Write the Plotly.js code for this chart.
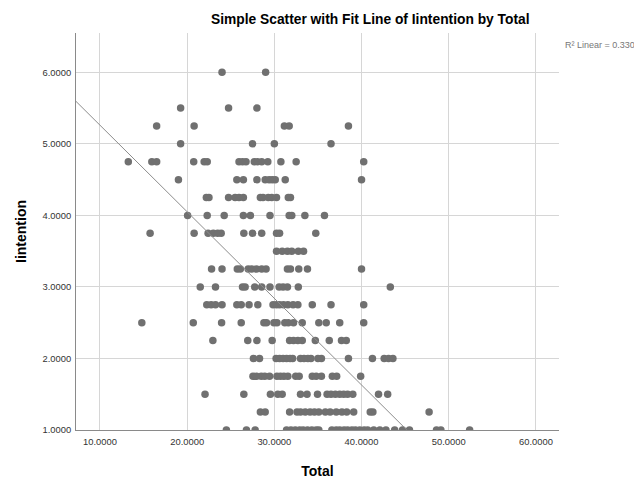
<!DOCTYPE html>
<html>
<head>
<meta charset="utf-8">
<script src="https://cdn.plot.ly/plotly-3.0.1.min.js"></script>
<style>html,body{margin:0;padding:0;background:#fff;}#chart{width:634px;height:479px;}</style>
</head>
<body>
<div id="chart"></div>
<script>
// Total values observed at each Iintention level
const total_600 = [24.0, 29.0];
const total_550 = [19.25, 24.75, 28.0];
const total_525 = [16.5, 20.8, 31.15, 31.7, 38.5];
const total_500 = [19.25, 27.5, 30.0, 36.5];
const total_475 = [13.25, 15.95, 16.5, 20.75, 21.95, 22.3, 25.95, 26.35, 26.75, 27.7, 28.05, 28.55, 29.25, 30.75, 32.5, 40.25];
const total_450 = [19.0, 25.7, 26.45, 28.0, 28.95, 29.4, 29.75, 30.1, 31.25, 40.0];
const total_425 = [22.2, 22.5, 24.75, 25.5, 25.95, 26.45, 28.4, 28.7, 29.3, 29.7, 30.25, 31.6, 31.85];
const total_400 = [20.05, 22.3, 24.25, 26.45, 27.25, 29.5, 31.7, 32.0, 33.5, 35.75];
const total_375 = [15.75, 20.8, 22.4, 23.0, 23.5, 23.9, 26.5, 27.5, 28.55, 30.25, 30.6, 34.75];
const total_350 = [30.25, 30.9, 31.5, 32.0, 32.75, 33.35];
const total_325 = [22.8, 24.0, 25.75, 26.1, 27.0, 27.4, 27.95, 28.55, 29.05, 31.5, 31.85, 32.8, 33.8, 40.0];
const total_300 = [21.5, 23.25, 26.35, 26.65, 27.75, 28.55, 29.5, 30.55, 31.0, 31.5, 32.75, 43.3];
const total_275 = [22.25, 22.75, 23.25, 24.0, 25.7, 26.2, 27.1, 28.1, 29.85, 30.25, 30.6, 31.05, 31.55, 32.15, 32.7, 34.35, 36.5, 40.25];
const total_250 = [14.8, 20.7, 23.95, 26.2, 28.8, 29.1, 29.95, 30.3, 31.2, 31.6, 32.2, 33.2, 35.1, 35.95, 37.5, 40.25];
const total_225 = [22.95, 26.95, 28.0, 29.75, 31.75, 32.2, 32.7, 33.2, 34.7, 36.3, 37.7, 38.25];
const total_200 = [27.6, 28.3, 30.2, 30.6, 31.0, 31.4, 31.8, 32.1, 33.0, 33.4, 33.85, 34.2, 35.0, 35.4, 38.5, 41.25, 42.6, 43.1, 43.6];
const total_175 = [27.55, 27.95, 28.5, 28.9, 29.45, 30.3, 30.7, 31.1, 31.55, 32.45, 32.85, 34.35, 34.8, 35.4, 36.65, 37.15, 39.9];
const total_150 = [22.05, 26.5, 29.55, 30.4, 30.9, 33.0, 33.75, 34.95, 36.05, 36.5, 37.0, 37.5, 37.95, 38.4, 39.0, 41.95, 43.0];
const total_125 = [28.4, 28.95, 31.75, 32.6, 33.0, 33.55, 34.1, 34.6, 35.1, 35.85, 36.4, 37.1, 37.75, 38.3, 39.1, 41.0, 41.3, 47.75];
const total_100 = [24.5, 26.8, 27.8, 31.4, 31.9, 32.4, 32.9, 33.3, 33.8, 34.3, 34.8, 35.1, 36.6, 37.1, 37.5, 38.0, 38.4, 38.9, 39.3, 39.8, 40.3, 40.7, 41.4, 42.1, 42.8, 43.8, 44.7, 45.5, 48.6, 49.1, 52.4];

const intentionLevels = [6.0, 5.5, 5.25, 5.0, 4.75, 4.5, 4.25, 4.0, 3.75, 3.5, 3.25, 3.0, 2.75, 2.5, 2.25, 2.0, 1.75, 1.5, 1.25, 1.0];
const totalsByLevel = [total_600, total_550, total_525, total_500, total_475, total_450, total_425, total_400, total_375, total_350,
  total_325, total_300, total_275, total_250, total_225, total_200, total_175, total_150, total_125, total_100];

// Fit line end points
const fitTotal = [7.25, 45.2];
const fitIntention = [5.594, 1.0];

const xTickVals = [10, 20, 30, 40, 50, 60];
const xTickText = ['10.0000', '20.0000', '30.0000', '40.0000', '50.0000', '60.0000'];
const yTickVals = [1, 2, 3, 4, 5, 6];
const yTickText = ['1.0000', '2.0000', '3.0000', '4.0000', '5.0000', '6.0000'];

const xs = [], ys = [];
totalsByLevel.forEach((arr, i) => arr.forEach(v => { xs.push(v); ys.push(intentionLevels[i]); }));

const FONT = 'Liberation Sans, Arial, sans-serif';

const traces = [
  { type: 'scatter', mode: 'markers', x: xs, y: ys,
    marker: { color: '#707070', size: 7.5, line: { width: 0 } }, hoverinfo: 'x+y', showlegend: false },
  { type: 'scatter', mode: 'lines', x: fitTotal, y: fitIntention,
    line: { color: '#8c8c8c', width: 1 }, showlegend: false, hoverinfo: 'skip' }
];

const layout = {
  width: 634, height: 479,
  margin: { l: 76, r: 75, t: 33, b: 49, pad: 0 },
  paper_bgcolor: '#ffffff', plot_bgcolor: '#ffffff',
  font: { family: FONT, color: '#333333', size: 9 },
  showlegend: false,
  title: { text: '<b>Simple Scatter with Fit Line of Iintention by Total</b>',
    font: { family: FONT, size: 13.8, color: '#000000' },
    xref: 'container', x: 0.584, xanchor: 'center', yref: 'container', y: 0.960, yanchor: 'middle' },
  xaxis: {
    range: [7.25, 62.65], tickvals: xTickVals, ticktext: xTickText,
    showgrid: true, gridcolor: '#d6d6d6', gridwidth: 1, zeroline: false,
    showline: true, linecolor: '#8a8a8a', linewidth: 1, ticks: '',
    ticklabelstandoff: 3,
    tickfont: { family: FONT, size: 9.4, color: '#333333' },
    title: { text: '<b>Total</b>', font: { family: FONT, size: 14, color: '#000000' }, standoff: 22 }
  },
  yaxis: {
    range: [1, 6.55], tickvals: yTickVals, ticktext: yTickText,
    showgrid: true, gridcolor: '#d6d6d6', gridwidth: 1, zeroline: false,
    showline: true, linecolor: '#8a8a8a', linewidth: 1, ticks: '',
    ticklabelstandoff: 2,
    tickfont: { family: FONT, size: 9.4, color: '#333333' },
    title: { text: '<b>Iintention</b>', font: { family: FONT, size: 14, color: '#000000' }, standoff: 12 }
  },
  annotations: [
    { text: 'R² Linear = 0.330', xref: 'paper', yref: 'paper', x: 1.008, y: 0.9705,
      xanchor: 'left', yanchor: 'middle', showarrow: false,
      font: { family: FONT, size: 9, color: '#777777' } }
  ]
};

Plotly.newPlot('chart', traces, layout, { displayModeBar: false, staticPlot: true });
</script>
</body>
</html>
